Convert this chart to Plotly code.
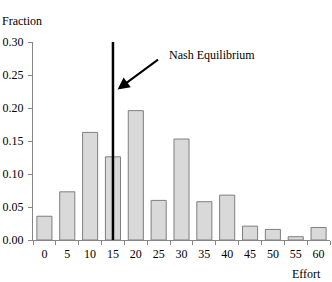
import plotly.graph_objects as go

categories = ["0", "5", "10", "15", "20", "25", "30", "35", "40", "45", "50", "55", "60"]
fractions = [0.036, 0.073, 0.163, 0.126, 0.196, 0.060, 0.153, 0.058, 0.068, 0.021, 0.016, 0.005, 0.019]
nash_effort = "15"
y_ticks = [0.00, 0.05, 0.10, 0.15, 0.20, 0.25, 0.30]

FONT = "Liberation Serif"
AX = "#868686"

fig = go.Figure()
fig.add_trace(go.Bar(
    x=categories, y=fractions, width=0.66,
    marker=dict(color="#d9d9d9", line=dict(color="#7f7f7f", width=1)),
    showlegend=False, hoverinfo="skip",
))
fig.add_trace(go.Scatter(
    x=[nash_effort, nash_effort], y=[0, 0.30], mode="lines",
    line=dict(color="black", width=2.5), showlegend=False, hoverinfo="skip",
))

fig.update_layout(
    width=332, height=282,
    margin=dict(l=33, r=2, t=42, b=42),
    paper_bgcolor="white", plot_bgcolor="white",
    font=dict(family=FONT, size=12, color="black"),
    bargap=0.34,
    xaxis=dict(
        type="category", categoryorder="array", categoryarray=categories,
        range=[-0.5, 12.5], tickson="boundaries", ticks="outside", ticklen=4,
        tickcolor=AX, showline=True, linecolor=AX, linewidth=1,
        showgrid=False, zeroline=False, tickfont=dict(family=FONT, size=12),
        ticklabelstandoff=3,
    ),
    yaxis=dict(
        range=[0, 0.30], tickvals=y_ticks, tickformat=".2f",
        ticks="outside", ticklen=4, tickcolor=AX, showline=True,
        linecolor=AX, linewidth=1, showgrid=False, zeroline=False,
        tickfont=dict(family=FONT, size=12), ticklabelstandoff=2,
    ),
)

fig.add_annotation(
    x=3.2, y=0.228, xref="x", yref="y", text="", showarrow=True,
    ax=42, ay=-31, axref="pixel", ayref="pixel",
    arrowhead=2, arrowsize=1.2, arrowwidth=2, arrowcolor="black",
)
fig.add_annotation(
    x=0.451, y=0.934, xref="paper", yref="paper", text="Nash Equilibrium",
    showarrow=False, xanchor="left", yanchor="middle",
    font=dict(family=FONT, size=12),
)
fig.add_annotation(
    x=-0.111, y=1.106, xref="paper", yref="paper", text="Fraction",
    showarrow=False, xanchor="left", yanchor="middle",
    font=dict(family=FONT, size=12),
)
fig.add_annotation(
    x=0.976, y=-0.17, xref="paper", yref="paper", text="Effort",
    showarrow=False, xanchor="right", yanchor="middle",
    font=dict(family=FONT, size=12),
)

fig.write_html("out.html")
